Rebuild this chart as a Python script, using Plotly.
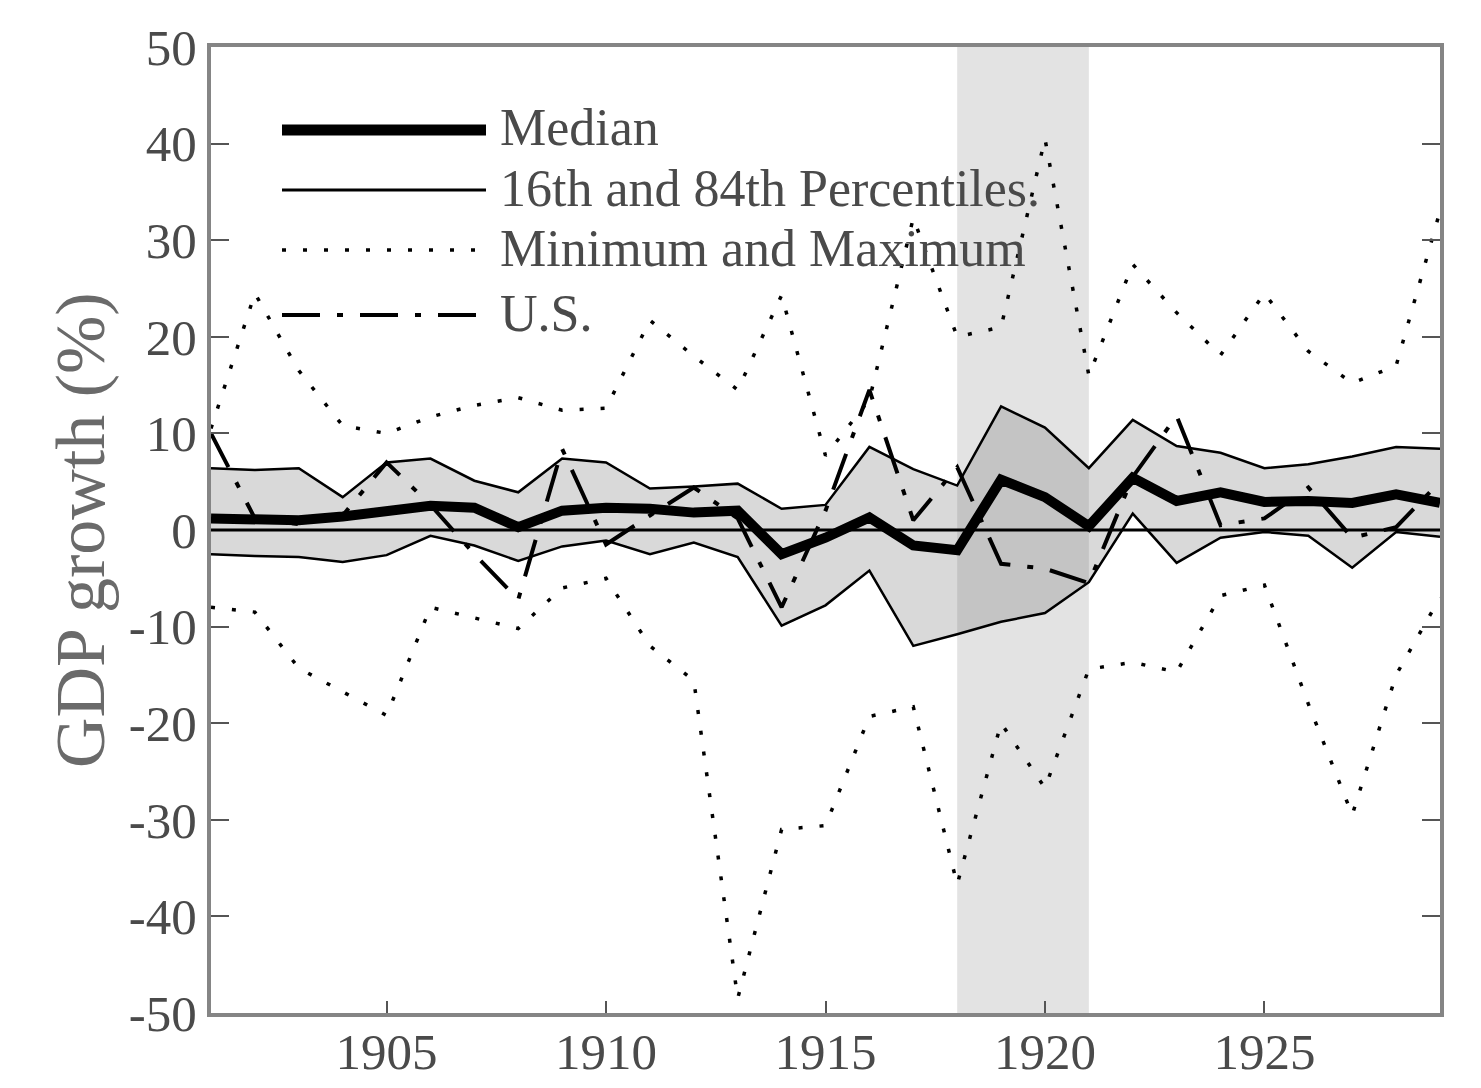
import plotly.graph_objects as go

years = list(range(1901, 1930))

median = [1.2, 1.0, 1.0, 1.4, 2.0, 2.5, 2.3, 0.3, 2.0, 2.3, 2.2, 1.8, 2.0, -2.5, -0.8,
          1.3, -1.6, -2.1, 5.2, 3.4, 0.4, 5.4, 3.0, 3.9, 2.9, 3.0, 2.8, 3.7, 2.8]
p84 = [6.4, 6.2, 6.4, 3.4, 7.0, 7.4, 5.1, 3.9, 7.4, 7.0, 4.3, 4.5, 4.8, 2.2, 2.6,
       8.6, 6.3, 4.6, 12.8, 10.6, 6.4, 11.4, 8.7, 8.0, 6.4, 6.8, 7.6, 8.6, 8.4]
p16 = [-2.5, -2.7, -2.8, -3.3, -2.6, -0.6, -1.6, -3.2, -1.7, -1.1, -2.5, -1.3, -2.8, -9.9, -7.8,
       -4.2, -12.0, -10.8, -9.5, -8.6, -5.4, 1.7, -3.4, -0.8, -0.2, -0.6, -3.9, -0.2, -0.7]
gmax = [10.5, 24.5, 16.5, 10.8, 10.0, 11.7, 12.9, 13.7, 12.4, 12.6, 21.7, 18.0, 14.5, 24.3, 7.7,
        13.5, 32.3, 20.0, 21.0, 40.5, 16.0, 27.5, 22.5, 18.1, 24.5, 18.5, 15.2, 17.0, 33.0]
gmin = [-8.0, -8.5, -14.3, -16.8, -19.2, -8.0, -9.1, -10.2, -6.0, -5.0, -12.0, -15.6, -48.5, -31.0, -30.6,
        -19.3, -18.3, -36.7, -20.0, -26.7, -14.4, -13.7, -14.7, -6.8, -5.7, -18.0, -29.5, -15.0, -7.0]
us = [10.0, 1.2, 0.6, 1.5, 7.0, 2.6, -2.5, -7.2, 8.4, -1.5, 1.5, 4.4, 1.2, -8.0, 2.0,
      14.5, 1.0, 6.5, -3.5, -4.0, -5.5, 5.5, 11.8, 0.5, 1.2, 4.4, -0.8, 0.3, 5.0]

shade_start, shade_end = 1918, 1921
x_ticks = [1905, 1910, 1915, 1920, 1925]
y_ticks = [-50, -40, -30, -20, -10, 0, 10, 20, 30, 40, 50]
y_ticktext = [str(v) for v in y_ticks]  # plain hyphen minus, as in the original
legend_labels = ["Median", "16th and 84th Percentiles.", "Minimum and Maximum", "U.S."]

FONT = "Liberation Serif"
DOT = "4px,17px"
DASHDOT = "38px,17px,6px,17px"

fig = go.Figure()

# percentile band
fig.add_trace(go.Scatter(x=years, y=p16, mode="lines",
                         line=dict(color="black", width=2.5), showlegend=False))
fig.add_trace(go.Scatter(x=years, y=p84, mode="lines", fill="tonexty",
                         fillcolor="rgba(103,103,103,0.25)",
                         line=dict(color="black", width=2.5), showlegend=False))
# min / max
fig.add_trace(go.Scatter(x=years, y=gmax, mode="lines",
                         line=dict(color="black", width=3.5, dash=DOT), showlegend=False))
fig.add_trace(go.Scatter(x=years, y=gmin, mode="lines",
                         line=dict(color="black", width=3.5, dash=DOT), showlegend=False))
# US
fig.add_trace(go.Scatter(x=years, y=us, mode="lines",
                         line=dict(color="black", width=4, dash=DASHDOT), showlegend=False))
# median
fig.add_trace(go.Scatter(x=years, y=median, mode="lines",
                         line=dict(color="black", width=10), showlegend=False))

# shaded period
fig.add_shape(type="rect", xref="x", yref="paper", x0=shade_start, x1=shade_end, y0=0, y1=1,
              fillcolor="#e3e3e3", line=dict(width=0), layer="below")

# zero line on top of the band
fig.add_shape(type="line", xref="paper", yref="y", x0=0, x1=1, y0=0, y1=0,
              line=dict(color="black", width=3), layer="above")

# manual legend (paper coordinates)
L, R, T, B = 211, 1440, 47, 1013
W, H = R - L, B - T


def px(xp):
    return (xp - L) / W


def py(yp):
    return (B - yp) / H


legend_styles = [
    dict(color="black", width=11),
    dict(color="black", width=3),
    dict(color="black", width=3.5, dash=DOT),
    dict(color="black", width=4, dash=DASHDOT),
]
legend_y = [130, 190, 250, 315]
for lab, st, yy in zip(legend_labels, legend_styles, legend_y):
    fig.add_shape(type="line", xref="paper", yref="paper",
                  x0=px(282), x1=px(486), y0=py(yy), y1=py(yy), line=st)
    fig.add_annotation(xref="paper", yref="paper", x=px(498), y=py(yy - 2),
                       text=lab, showarrow=False, xanchor="left", yanchor="middle",
                       font=dict(family=FONT, size=52, color="#4a4a4a"))

# y-axis title
fig.add_annotation(xref="paper", yref="paper", x=0, y=0.5, xshift=-131,
                   text="GDP growth (%)", textangle=-90, showarrow=False,
                   xanchor="center", yanchor="middle",
                   font=dict(family=FONT, size=70, color="#6a6a6a"))

fig.update_layout(
    width=1481, height=1088,
    margin=dict(l=L, r=1481 - R, t=T, b=1088 - B, autoexpand=False),
    paper_bgcolor="white", plot_bgcolor="white",
    showlegend=False,
    font=dict(family=FONT, size=50, color="#4a4a4a"),
)
fig.update_xaxes(range=[1901, 1929], tickvals=x_ticks, ticktext=[str(t) for t in x_ticks],
                 automargin=False,
                 showgrid=False, zeroline=False,
                 showline=True, linecolor="#858585", linewidth=4, mirror=True,
                 ticks="inside", ticklen=12, tickwidth=2, tickcolor="#555555",
                 ticklabelstandoff=-9,
                 tickfont=dict(family=FONT, size=51, color="#4a4a4a"))
fig.update_yaxes(range=[-50, 50], tickvals=y_ticks, ticktext=y_ticktext,
                 automargin=False,
                 showgrid=False, zeroline=False,
                 showline=True, linecolor="#858585", linewidth=4, mirror="ticks",
                 ticks="inside", ticklen=18, tickwidth=2, tickcolor="#555555",
                 tickfont=dict(family=FONT, size=51, color="#4a4a4a"))

fig.write_html("out.html")
